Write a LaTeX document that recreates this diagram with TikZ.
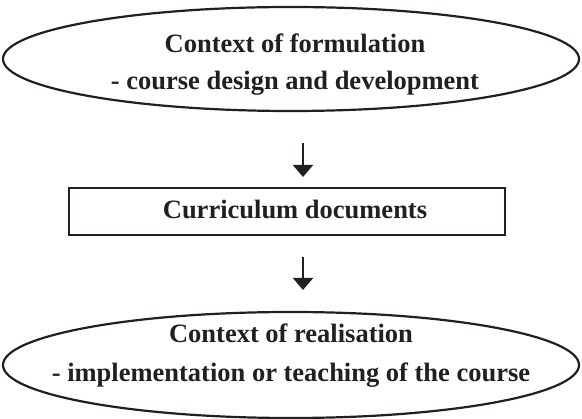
\documentclass[tikz,border=0pt]{standalone}
\usepackage{fontspec}
\setmainfont{Liberation Serif}
\usetikzlibrary{arrows.meta,shapes.geometric}
\definecolor{ink}{RGB}{35,31,32}
\begin{document}
\begin{tikzpicture}[x=1pt,y=-1pt,
  caption/.style={font=\fontsize{26.5}{32}\selectfont\bfseries, anchor=base, inner sep=0pt, text=ink},
  oval/.style={draw=ink, ellipse, line width=2.2pt, minimum width=576pt, minimum height=104pt, inner sep=0pt},
  docbox/.style={draw=ink, rectangle, line width=2.6pt, minimum width=436pt, minimum height=47pt, inner sep=0pt},
  flow/.style={draw=ink, line width=2pt, -{Triangle[width=20pt,length=12pt]}}]
\useasboundingbox (0,0) rectangle (582,419);

% stage 1: formulation
\node[oval] (formulation) at (291,59) {};
\node[caption] (formulationTitle) at (295,53) {Context of formulation};
\node[caption] (formulationSub) at (295,90) {- course design and development};

% stage 2: documents
\node[docbox] (documents) at (287,211.5) {};
\node[caption] (documentsText) at (295,219) {Curriculum documents};

% stage 3: realisation
\node[oval, minimum height=106pt] (realisation) at (291,365) {};
\node[caption] (realisationTitle) at (291,343) {Context of realisation};
\node[caption] (realisationSub) at (291,382) {- implementation or teaching of the course};

% arrows between the stages
\coordinate (flowOneStart) at (303,143);
\coordinate (flowOneEnd) at (303,177);
\coordinate (flowTwoStart) at (303,257);
\coordinate (flowTwoEnd) at (303,290);
\draw[flow] (flowOneStart) -- (flowOneEnd);
\draw[flow] (flowTwoStart) -- (flowTwoEnd);
\end{tikzpicture}
\end{document}
